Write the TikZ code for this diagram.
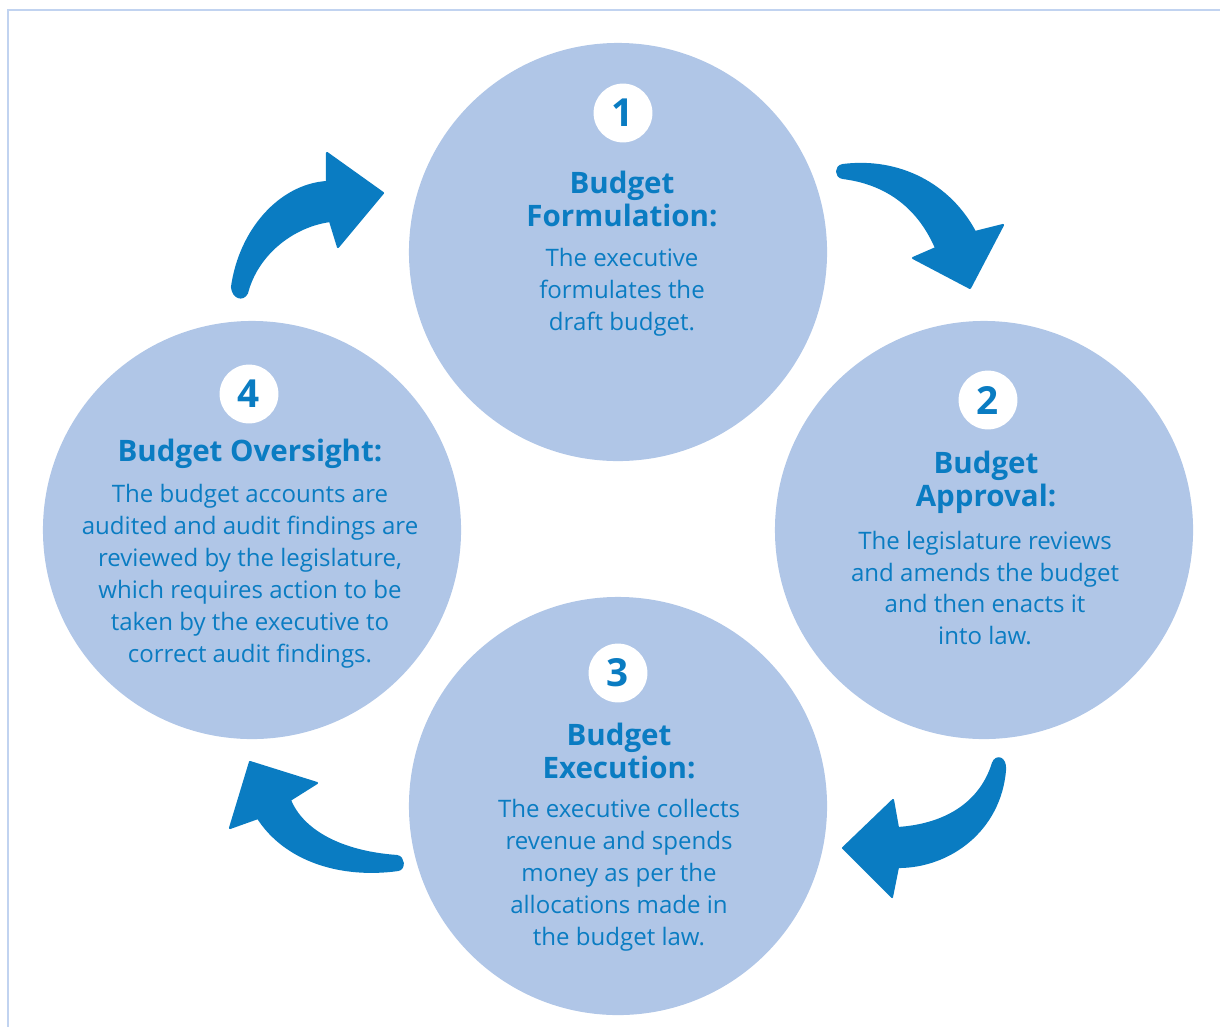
\documentclass[tikz,border=0pt]{standalone}
\usepackage{fontspec}
\setmainfont{Open Sans}
\definecolor{stepfill}{RGB}{176,198,231}
\definecolor{stepblue}{RGB}{10,124,194}
\definecolor{framecol}{RGB}{193,211,240}
\tikzset{
 stage/.style={circle,fill=stepfill,minimum size=10.45cm,inner sep=0pt},
 badge/.style={circle,fill=white,minimum size=1.47cm,inner sep=0pt,text=stepblue,font=\fontsize{27.5}{27.5}\selectfont\bfseries},
 heading/.style={align=center,text=stepblue,font=\fontsize{21}{23.6}\selectfont\bfseries},
 body/.style={align=center,text=stepblue,font=\fontsize{17.1}{22.7}\selectfont},
 bigarrow/.style={fill=stepblue,draw=stepblue,line width=1.5pt,line join=round}
}
\begin{document}
\begin{tikzpicture}[x=0.025cm,y=-0.025cm]
\useasboundingbox (0,0) rectangle (1220,1027);
%frame
\draw[framecol,line width=0.06cm](1220,10)--(8,10)--(8,1027);
%circles
\node[stage](formulation)at(618,252){};
\node[stage](approval)at(984,530){};
\node[stage](execution)at(618,806){};
\node[stage](oversight)at(252,530){};
%numbers
\node[badge](n1)at(623,113){1};
\node[badge](n2)at(988,400){2};
\node[badge](n3)at(618,673){3};
\node[badge](n4)at(249,394){4};
%headings
\node[heading](h1)at(622,199){Budget\\Formulation:};
\node[heading](h2)at(986,482){Budget\\Approval:};
\node[heading](h3)at(619,751){Budget\\Execution:};
\node[heading](h4)at(250,454){Budget Oversight:};
%texts
\node[body](t1)at(622,292){The executive\\formulates the\\draft budget.};
\node[body](t2)at(985,588){The legislature reviews\\and amends the budget\\and then enacts it\\into law.};
\node[body](t3)at(619,875){The executive collects\\revenue and spends\\money as per the\\allocations made in\\the budget law.};
\node[body](t4)at(250,576){The budget accounts are\\audited and audit findings are\\reviewed by the legislature,\\which requires action to be\\taken by the executive to\\correct audit findings.};
%arrows
\filldraw[bigarrow](232,287)..controls(240,230)and(280,185)..(327,182)--(327,153)--(383,193)--(338,247)--(330,221)
 ..controls(293,226)and(257,254)..(247,293)..controls(243,301)and(233,298)..cycle;
\filldraw[bigarrow](843,165)..controls(900,158)and(950,185)..(975,232)--(1003,225)--(970,288)--(913,258)--(936,248)
 ..controls(917,204)and(883,183)..(843,178)..controls(835,177)and(835,166)..cycle;
\filldraw[bigarrow](1005,770)..controls(1000,830)and(950,867)..(898,867)--(892,897)--(843,848)--(893,800)--(898,828)
 ..controls(943,825)and(980,805)..(993,763)..controls(996,755)and(1006,757)..cycle;
\filldraw[bigarrow](397,856)..controls(340,852)and(302,830)..(290,800)--(317,783)--(250,762)--(230,828)--(258,818)
 ..controls(285,860)and(340,878)..(398,870)..controls(405,869)and(404,857)..cycle;
\end{tikzpicture}
\end{document}
